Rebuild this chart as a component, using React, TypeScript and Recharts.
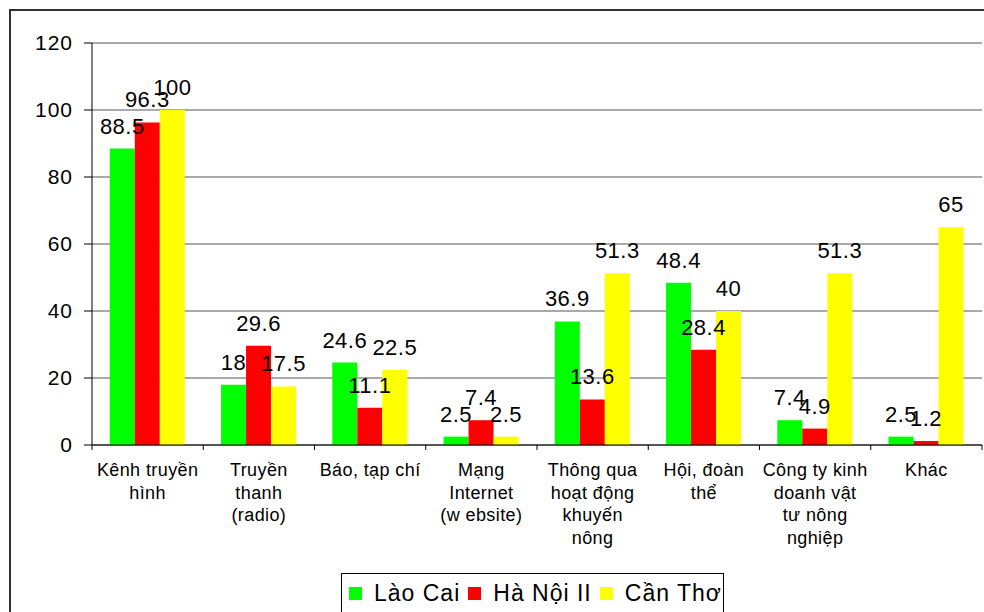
import React from 'react';
import { BarChart, Bar, XAxis, YAxis, CartesianGrid, LabelList, Legend } from 'recharts';

const categories = [
  'Kênh truyền\nhình',
  'Truyền\nthanh\n(radio)',
  'Báo, tạp chí',
  'Mạng\nInternet\n(w ebsite)',
  'Thông qua\nhoạt động\nkhuyến\nnông',
  'Hội, đoàn\nthể',
  'Công ty kinh\ndoanh vật\ntư nông\nnghiệp',
  'Khác',
];
const laoCai = [88.5, 18, 24.6, 2.5, 36.9, 48.4, 7.4, 2.5];
const haNoi = [96.3, 29.6, 11.1, 7.4, 13.6, 28.4, 4.9, 1.2];
const canTho = [100, 17.5, 22.5, 2.5, 51.3, 40, 51.3, 65];
const yTicks = [0, 20, 40, 60, 80, 100, 120];

const series = [
  { key: 'laoCai', name: 'Lào Cai', color: '#00FF00' },
  { key: 'haNoi', name: 'Hà Nội II', color: '#FF0000' },
  { key: 'canTho', name: 'Cần Thơ', color: '#FFFF00' },
];

const data = categories.map((c, i) => ({
  cat: c,
  laoCai: laoCai[i],
  haNoi: haNoi[i],
  canTho: canTho[i],
}));

const W = 984;
const H = 612;
const PLOT_LEFT = 92;
const PLOT_RIGHT = 982;
const PLOT_TOP = 43;
const PLOT_BOTTOM = 445;
const Y_AXIS_W = 60;
const X_AXIS_H = 120;
const BAND = (PLOT_RIGHT - PLOT_LEFT) / categories.length;
const FONT = '"Liberation Sans", Arial, sans-serif';

const CategoryTick = (props: any) => {
  const { x, y, payload, index } = props;
  const lines = String(payload.value).split('\n');
  const half = BAND / 2;
  const isLast = index === categories.length - 1;
  return (
    <g>
      <line x1={x - half} x2={x - half} y1={y} y2={y + 5} stroke="#000" strokeWidth={1} />
      {isLast && <line x1={x + half} x2={x + half} y1={y} y2={y + 5} stroke="#000" strokeWidth={1} />}
      <text
        x={x}
        y={y}
        textAnchor="middle"
        fontFamily={FONT}
        fontSize={18}
        letterSpacing={0.4}
        fill="#000"
      >
        {lines.map((l, i) => (
          <tspan key={i} x={x} dy={i === 0 ? 31 : 22.5}>
            {l}
          </tspan>
        ))}
      </text>
    </g>
  );
};

const LegendBox = () => {
  return (
    <div
      style={{
        boxSizing: 'border-box',
        width: 383,
        height: 40,
        border: '1px solid #000',
        background: '#fff',
        display: 'flex',
        alignItems: 'center',
        paddingLeft: 7,
        fontFamily: FONT,
        fontSize: 23,
        letterSpacing: 1,
        color: '#000',
      }}
    >
      {series.map((s, i) => (
        <div key={i} style={{ display: 'flex', alignItems: 'center', marginRight: 8 }}>
          <span style={{ display: 'inline-block', width: 13, height: 13, background: s.color, marginRight: 12 }} />
          <span style={{ whiteSpace: 'nowrap' }}>{s.name}</span>
        </div>
      ))}
    </div>
  );
};

export default function App() {
  return (
    <div style={{ position: 'absolute', left: 0, top: 0, width: W, height: H, overflow: 'hidden', background: '#fff' }}>
      <div
        style={{
          position: 'absolute',
          left: 9,
          top: 9,
          width: 1100,
          height: 800,
          borderLeft: '2px solid #333',
          borderTop: '2px solid #333',
        }}
      />
      <div style={{ position: 'absolute', left: 0, top: 0 }}>
        <BarChart
          width={W}
          height={H}
          data={data}
          barCategoryGap="16%"
          barGap={0}
          margin={{
            top: PLOT_TOP,
            right: W - PLOT_RIGHT,
            left: PLOT_LEFT - Y_AXIS_W,
            bottom: H - PLOT_BOTTOM - X_AXIS_H,
          }}
        >
          <CartesianGrid vertical={false} stroke="#555" strokeWidth={1} />
          <XAxis
            dataKey="cat"
            interval={0}
            height={X_AXIS_H}
            tickLine={false}
            tickSize={0}
            tickMargin={0}
            axisLine={{ stroke: '#000', strokeWidth: 1 }}
            tick={(p: any) => <CategoryTick {...p} />}
          />
          <YAxis
            width={Y_AXIS_W}
            domain={[0, 120]}
            ticks={yTicks}
            interval={0}
            tickSize={8}
            tickMargin={11}
            axisLine={{ stroke: '#000', strokeWidth: 1 }}
            tickLine={{ stroke: '#000', strokeWidth: 1 }}
            tick={{ fill: '#000', fontSize: 21, fontFamily: FONT, letterSpacing: 1 }}
          />
          {series.map((s) => (
            <Bar key={s.key} dataKey={s.key} name={s.name} fill={s.color} isAnimationActive={false}>
              <LabelList
                dataKey={s.key}
                position="top"
                offset={15}
                fill="#000"
                fontSize={22}
                fontFamily={FONT}
                letterSpacing={0.5}
              />
            </Bar>
          ))}
          <Legend
            layout="horizontal"
            verticalAlign="middle"
            align="center"
            wrapperStyle={{ position: 'absolute', left: 341, top: 573, width: 383, height: 40 }}
            content={() => <LegendBox />}
          />
        </BarChart>
      </div>
    </div>
  );
}
